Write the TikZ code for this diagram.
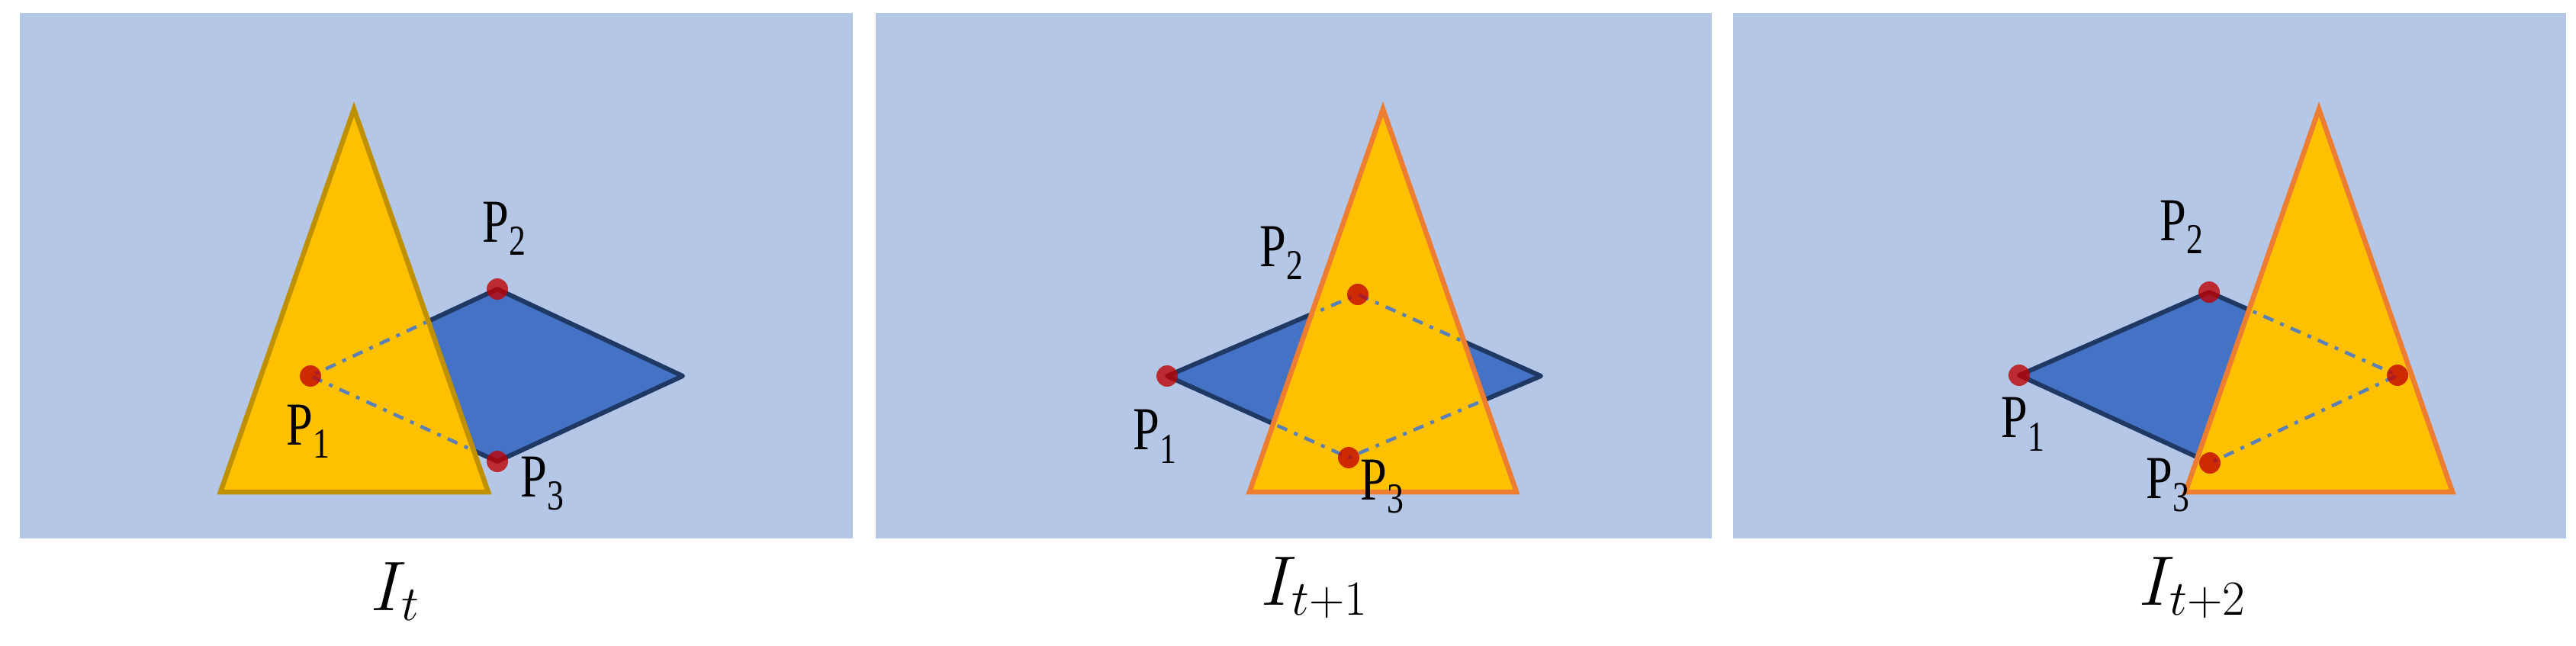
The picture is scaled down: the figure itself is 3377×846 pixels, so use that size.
\RequirePackage{fix-cm}
\documentclass[tikz,border=0pt]{standalone}
\usepackage{fontspec}
\usepackage{graphicx}
\newfontfamily\plabfont{Liberation Serif}
\definecolor{panelbg}{HTML}{B4C7E7}
\definecolor{trifillc}{HTML}{FFC000}
\definecolor{goldedge}{HTML}{BF9000}
\definecolor{orangeedge}{HTML}{ED7D31}
\definecolor{quadfillc}{HTML}{4472C4}
\definecolor{quadedge}{HTML}{1F3864}
\definecolor{hiddenc}{HTML}{5B80B8}
\definecolor{dotred}{HTML}{C00000}
\tikzset{
  panel/.style={fill=panelbg, draw=none},
  quadshape/.style={fill=quadfillc, draw=quadedge, line width=6pt, line join=round},
  trifill/.style={fill=trifillc, draw=none},
  triedge/.style={draw=#1, line width=6.5pt, line join=miter},
  hiddenline/.style={draw=hiddenc, line width=4.5pt, dash pattern=on 14pt off 10pt on 5pt off 10pt},
  ptdot/.style={circle, fill=dotred, fill opacity=0.78, inner sep=0pt, minimum size=28pt, draw=none},
  plabel/.style={inner sep=0pt, font=\plabfont\fontsize{80}{88}\selectfont},
  ilabel/.style={inner sep=0pt, anchor=base, font=\fontsize{92}{100}\selectfont},
}
\newcommand{\plab}[1]{\scalebox{0.78}[1]{P\raisebox{-0.22em}{\fontsize{56}{60}\selectfont #1}}}
\begin{document}
\begin{tikzpicture}[x=1pt, y=-1pt]
\useasboundingbox (0,0) rectangle (3377,846);
\fill[white] (0,0) rectangle (3377,846);

% ---------- panel 1 ----------
\fill[panel] (26,17) rectangle (1118,706);
\coordinate (a1) at (407,493);
\coordinate (b1) at (652,379);
\coordinate (c1) at (895,493);
\coordinate (d1) at (652,605);
\coordinate (ta1) at (464,143);
\coordinate (tl1) at (289,645);
\coordinate (tr1) at (640,645);
\draw[quadshape] (a1) -- (b1) -- (c1) -- (d1) -- cycle;
\fill[trifill] (ta1) -- (tl1) -- (tr1) -- cycle;
\begin{scope}
  \clip (ta1) -- (tl1) -- (tr1) -- cycle;
  \draw[hiddenline] (b1) -- (a1) -- (d1);
\end{scope}
\draw[triedge=goldedge] (ta1) -- (tl1) -- (tr1) -- cycle;
\node[ptdot] (p1a) at (a1) {};
\node[ptdot] (p1b) at (b1) {};
\node[ptdot] (p1d) at (d1) {};
\node[plabel] (l1a) at (404,566) {\plab{1}};
\node[plabel] (l1b) at (661,300) {\plab{2}};
\node[plabel] (l1d) at (711,634) {\plab{3}};
\node[ilabel] (i1) at (518,800) {$I_t$};

% ---------- panel 2 ----------
\fill[panel] (1148,17) rectangle (2244,706);
\coordinate (a2) at (1530,493);
\coordinate (b2) at (1780,386);
\coordinate (c2) at (2020,493);
\coordinate (d2) at (1768,600);
\coordinate (ta2) at (1813,143);
\coordinate (tl2) at (1638,645);
\coordinate (tr2) at (1988,645);
\draw[quadshape] (a2) -- (b2) -- (c2) -- (d2) -- cycle;
\fill[trifill] (ta2) -- (tl2) -- (tr2) -- cycle;
\begin{scope}
  \clip (ta2) -- (tl2) -- (tr2) -- cycle;
  \draw[hiddenline] (a2) -- (b2) -- (c2) -- (d2) -- cycle;
\end{scope}
\draw[triedge=orangeedge] (ta2) -- (tl2) -- (tr2) -- cycle;
\node[ptdot] (p2a) at (a2) {};
\node[ptdot] (p2b) at (b2) {};
\node[ptdot] (p2d) at (d2) {};
\node[plabel] (l2a) at (1514,572) {\plab{1}};
\node[plabel] (l2b) at (1680,332) {\plab{2}};
\node[plabel] (l2d) at (1812,638) {\plab{3}};
\node[ilabel] (i2) at (1723,793) {$I_{t+1}$};

% ---------- panel 3 ----------
\fill[panel] (2272,17) rectangle (3364,706);
\coordinate (a3) at (2647,492);
\coordinate (b3) at (2896,383);
\coordinate (c3) at (3143,492);
\coordinate (d3) at (2897,607);
\coordinate (ta3) at (3040,143);
\coordinate (tl3) at (2865,645);
\coordinate (tr3) at (3215,645);
\draw[quadshape] (a3) -- (b3) -- (c3) -- (d3) -- cycle;
\fill[trifill] (ta3) -- (tl3) -- (tr3) -- cycle;
\begin{scope}
  \clip (ta3) -- (tl3) -- (tr3) -- cycle;
  \draw[hiddenline] (b3) -- (c3) -- (d3);
\end{scope}
\draw[triedge=orangeedge] (ta3) -- (tl3) -- (tr3) -- cycle;
\node[ptdot] (p3a) at (a3) {};
\node[ptdot] (p3b) at (b3) {};
\node[ptdot] (p3c) at (c3) {};
\node[ptdot] (p3d) at (d3) {};
\node[plabel] (l3a) at (2652,556) {\plab{1}};
\node[plabel] (l3b) at (2860,298) {\plab{2}};
\node[plabel] (l3d) at (2842,636) {\plab{3}};
\node[ilabel] (i3) at (2874,793) {$I_{t+2}$};
\end{tikzpicture}
\end{document}
